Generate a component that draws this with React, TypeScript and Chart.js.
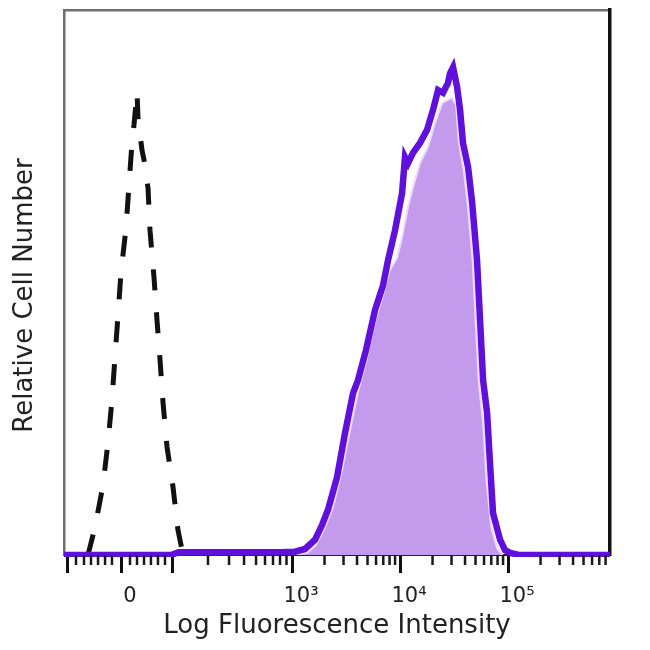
import React, { useEffect, useRef } from 'react';
import { Chart, registerables } from 'chart.js';

Chart.register(...registerables);

// x values are display channels of a biexponential axis (10^3 = 3, 10^4 = 4, 10^5 = 5)
const controlX = [1.111, 1.176, 1.250, 1.296, 1.333, 1.361, 1.389, 1.417, 1.463, 1.491, 1.519, 1.537, 1.565, 1.574, 1.611, 1.630, 1.667, 1.685, 1.722, 1.750, 1.778, 1.806, 1.843, 1.898, 1.944, 1.991];
const controlY = [0, 5.1, 12.8, 20.6, 28.4, 36.3, 44.0, 51.9, 60.0, 67.9, 75.8, 78.9, 85.0, 80.2, 74.3, 72.5, 67.3, 59.6, 51.0, 43.1, 35.8, 27.9, 19.8, 12.5, 4.6, 0];

const stainedX = [0.889, 1.88, 1.95, 2.889, 3.028, 3.120, 3.213, 3.278, 3.333, 3.417, 3.491, 3.565, 3.611, 3.685, 3.769, 3.843, 3.889, 3.954, 4.019, 4.046, 4.074, 4.120, 4.185, 4.250, 4.306, 4.352, 4.398, 4.444, 4.463, 4.491, 4.528, 4.556, 4.583, 4.630, 4.667, 4.713, 4.741, 4.769, 4.806, 4.833, 4.861, 4.926, 4.972, 5.019, 5.1, 5.944];
const stainedY = [0, 0, 0.5, 0.5, 0.6, 1.1, 2.8, 5.5, 8.3, 14.3, 22.4, 29.7, 32.1, 37.6, 45.0, 49.5, 54.1, 59.6, 66.4, 73.0, 71.9, 73.8, 75.6, 78.0, 81.7, 85.3, 84.8, 86.6, 88.4, 89.5, 85.9, 81.7, 75.6, 71.2, 64.8, 54.1, 43.1, 32.1, 26.1, 16.9, 7.7, 2.8, 0.9, 0.4, 0, 0];

const stainedFillX = [3.028, 3.139, 3.222, 3.306, 3.380, 3.463, 3.537, 3.611, 3.685, 3.769, 3.843, 3.907, 3.972, 4.019, 4.074, 4.120, 4.185, 4.259, 4.324, 4.389, 4.444, 4.481, 4.520, 4.545, 4.590, 4.625, 4.672, 4.700, 4.728, 4.775, 4.800, 4.845, 4.900, 4.950];
const stainedFillY = [0, 0.4, 1.8, 5.1, 8.8, 15.6, 22.9, 29.9, 35.4, 42.8, 47.7, 52.3, 54.5, 58.3, 63.9, 67.5, 71.9, 74.9, 79.3, 82.9, 83.5, 83.9, 82.5, 75.6, 70.6, 64.8, 54.1, 43.1, 32.1, 22.9, 13.8, 5.1, 1.2, 0];

const majorTickValues = [0.926, 1.417, 1.889, 3, 4, 5];
const majorTickLabels = ['', '0', '', '10³', '10⁴', '10⁵'];
const minorTickValues = [1.000, 1.074, 1.139, 1.204, 1.269, 1.333, 1.500, 1.565, 1.630, 1.694, 1.759, 1.824, 2.222, 2.417, 2.556, 2.667, 2.750, 2.824, 2.889, 2.949, 3.301, 3.477, 3.602, 3.699, 3.778, 3.845, 3.903, 3.954, 4.301, 4.477, 4.602, 4.699, 4.778, 4.845, 4.903, 4.954, 5.301, 5.477, 5.602, 5.699, 5.778, 5.845, 5.903];

const xTitle = 'Log Fluorescence Intensity';
const yTitle = 'Relative Cell Number';

const xMin = 0.889;
const xMax = 5.944;

const toPoints = (xs: number[], ys: number[]) => xs.map((x, i) => ({ x, y: ys[i] }));

const FONT = 'DejaVu Sans';

const minorTicksPlugin = {
  id: 'minorTicks',
  afterDraw(chart: any) {
    const xs = chart.scales.x;
    const { ctx, chartArea } = chart;
    ctx.save();
    ctx.strokeStyle = '#1a1a1a';
    ctx.lineWidth = 2.5;
    ctx.beginPath();
    for (const v of minorTickValues) {
      const p = xs.getPixelForValue(v);
      ctx.moveTo(p, chartArea.bottom);
      ctx.lineTo(p, chartArea.bottom + 10);
    }
    ctx.stroke();
    ctx.restore();
  },
};

const yTitlePlugin = {
  id: 'yTitle',
  afterDraw(chart: any) {
    const { ctx, chartArea } = chart;
    ctx.save();
    ctx.translate(25, (chartArea.top + chartArea.bottom) / 2 + 13);
    ctx.rotate(-Math.PI / 2);
    ctx.fillStyle = '#222';
    ctx.font = `26px "${FONT}"`;
    ctx.textAlign = 'center';
    ctx.textBaseline = 'middle';
    ctx.fillText(yTitle, 0, 0);
    ctx.restore();
  },
};

export default function App() {
  const ref = useRef<HTMLCanvasElement>(null);

  useEffect(() => {
    document.body.style.margin = '0';
    const chart = new Chart(ref.current as HTMLCanvasElement, {
      type: 'line',
      data: {
        datasets: [
          {
            label: 'Stained outline',
            data: toPoints(stainedX, stainedY),
            borderColor: '#5f10da',
            borderWidth: 6.5,
            fill: false,
            pointRadius: 0,
            order: 0,
            clip: { left: 0, right: 0, top: 0, bottom: 2 } as any,
          },
          {
            label: 'Stained fill',
            data: toPoints(stainedFillX, stainedFillY),
            borderColor: '#ecdcfb',
            borderWidth: 2,
            backgroundColor: '#c49bec',
            fill: 'origin',
            pointRadius: 0,
            order: 1,
          },
          {
            label: 'Control',
            data: toPoints(controlX, controlY),
            borderColor: '#111111',
            borderWidth: 5,
            borderDash: [21, 22],
            fill: false,
            pointRadius: 0,
            order: 2,
          },
        ],
      },
      options: {
        animation: false,
        responsive: false,
        layout: { padding: 0 },
        plugins: { legend: { display: false }, tooltip: { enabled: false } },
        elements: { line: { tension: 0 }, point: { radius: 0 } },
        scales: {
          x: {
            type: 'linear',
            position: 'bottom',
            min: xMin,
            max: xMax,
            afterBuildTicks: (s: any) => {
              s.ticks = majorTickValues.map((v) => ({ value: v }));
            },
            afterFit: (s: any) => {
              s.height = 95;
            },
            ticks: {
              autoSkip: false,
              maxRotation: 0,
              minRotation: 0,
              padding: 11,
              labelOffset: 9,
              color: '#222',
              font: { family: FONT, size: 21 },
              callback: (_v: any, i: number) => majorTickLabels[i],
            },
            grid: {
              display: true,
              drawOnChartArea: false,
              drawTicks: true,
              tickLength: 18,
              tickColor: '#111',
              tickWidth: 3,
            },
            border: { display: true, color: '#222', width: 2 },
            title: {
              display: true,
              text: xTitle,
              color: '#222',
              font: { family: FONT, size: 26 },
              padding: { top: 0, bottom: 8 },
            },
          },
          y: {
            type: 'linear',
            position: 'left',
            min: 0,
            max: 100,
            afterFit: (s: any) => {
              s.width = 64;
            },
            ticks: { display: false },
            grid: { display: false },
            border: { display: true, color: '#6f6f6f', width: 2.5 },
            title: { display: false },
          },
          x2: {
            type: 'linear',
            position: 'top',
            display: true,
            afterFit: (s: any) => {
              s.height = 10;
            },
            ticks: { display: false },
            grid: { display: false },
            border: { display: true, color: '#707070', width: 2.5 },
          },
          y2: {
            type: 'linear',
            position: 'right',
            display: true,
            afterFit: (s: any) => {
              s.width = 40;
            },
            ticks: { display: false },
            grid: { display: false },
            border: { display: true, color: '#111', width: 3.5 },
          },
        },
      } as any,
      plugins: [minorTicksPlugin, yTitlePlugin],
    });
    return () => chart.destroy();
  }, []);

  return (
    <div style={{ width: 650, height: 650, background: '#ffffff' }}>
      <canvas ref={ref} width={650} height={650} style={{ display: 'block', width: 650, height: 650 }} />
    </div>
  );
}
